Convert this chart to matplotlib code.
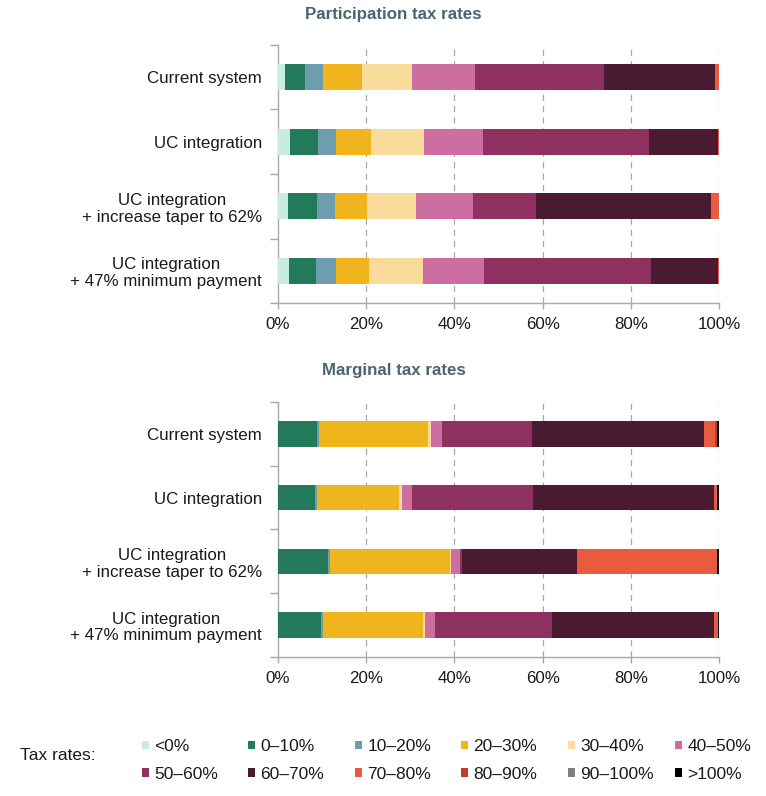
import matplotlib
matplotlib.use("Agg")
import matplotlib.pyplot as plt
from matplotlib.patches import Patch
import numpy as np

plt.rcParams['font.family'] = ['Liberation Sans', 'DejaVu Sans']

categories = ["Current system", "UC integration",
              "UC integration\n+ increase taper to 62%",
              "UC integration\n+ 47% minimum payment"]
bands = ["<0%", "0–10%", "10–20%", "20–30%", "30–40%", "40–50%",
         "50–60%", "60–70%", "70–80%", "80–90%", "90–100%", ">100%"]
colors = ["#c9ece0", "#237a5a", "#6f9db0", "#f0b41c", "#f9dc9c", "#cc6fa0",
          "#8e3060", "#4a1a30", "#e85b3f", "#c23b22", "#808080", "#000000"]

# Participation tax rates: share (%) in each band, per category
participation = {
    "<0%":     [1.7, 2.7, 2.3, 2.6],
    "0–10%":   [4.5, 6.3, 6.5, 6.0],
    "10–20%":  [4.0, 4.1, 4.1, 4.5],
    "20–30%":  [8.9, 7.9, 7.3, 7.5],
    "30–40%":  [11.3, 12.2, 11.1, 12.2],
    "40–50%":  [14.3, 13.2, 12.9, 14.0],
    "50–60%":  [29.3, 37.8, 14.3, 37.9],
    "60–70%":  [25.2, 15.5, 39.8, 15.0],
    "70–80%":  [0.9, 0.2, 1.7, 0.2],
    "80–90%":  [0.0, 0.0, 0.0, 0.0],
    "90–100%": [0.0, 0.0, 0.0, 0.0],
    ">100%":   [0.0, 0.0, 0.0, 0.0],
}

# Marginal tax rates
marginal = {
    "<0%":     [0.0, 0.0, 0.0, 0.0],
    "0–10%":   [8.8, 8.5, 11.3, 9.7],
    "10–20%":  [0.6, 0.3, 0.5, 0.4],
    "20–30%":  [24.6, 18.7, 27.1, 22.7],
    "30–40%":  [0.6, 0.6, 0.3, 0.6],
    "40–50%":  [2.6, 2.3, 2.1, 2.2],
    "50–60%":  [20.4, 27.4, 0.5, 26.6],
    "60–70%":  [39.1, 41.0, 26.1, 36.7],
    "70–80%":  [2.3, 0.8, 31.6, 0.8],
    "80–90%":  [0.5, 0.0, 0.1, 0.0],
    "90–100%": [0.0, 0.0, 0.0, 0.0],
    ">100%":   [0.5, 0.3, 0.4, 0.3],
}

xticks = [0, 20, 40, 60, 80, 100]
xticklabels = ["0%", "20%", "40%", "60%", "80%", "100%"]

FS = 12.2
LFS = 12.5
TXT = "#1a1a1a"
GRAY = "#a8a8a8"

fig = plt.figure(figsize=(7.66, 7.96), dpi=100)
ax1 = fig.add_axes([0.3629, 0.6193, 0.5757, 0.3242])
ax2 = fig.add_axes([0.3629, 0.1746, 0.5757, 0.3204])


def draw(ax, data):
    y = np.arange(len(categories))
    left = np.zeros(len(categories))
    for band, col in zip(bands, colors):
        vals = np.array(data[band], dtype=float)
        ax.barh(y, vals, left=left, height=0.40, color=col,
                edgecolor="none", label=band, zorder=3)
        left += vals
    ax.set_xlim(0, 100)
    ax.set_ylim(len(categories) - 0.5, -0.5)
    ax.set_yticks(y)
    labs = ax.set_yticklabels(categories, fontsize=FS, color=TXT,
                              linespacing=1.15)
    for t in labs:
        t.set_multialignment("center")
    ax.set_yticks(np.arange(-0.5, len(categories)), minor=True)
    ax.tick_params(axis="y", which="major", length=0, pad=11.5)
    ax.tick_params(axis="y", which="minor", length=6, color=GRAY, width=1)
    ax.set_xticks(xticks)
    ax.set_xticklabels(xticklabels, fontsize=FS, color=TXT)
    ax.tick_params(axis="x", length=4, color=GRAY, width=1, pad=6)
    for s in ["top", "right"]:
        ax.spines[s].set_visible(False)
    for s in ["left", "bottom"]:
        ax.spines[s].set_color(GRAY)
        ax.spines[s].set_linewidth(1)
    for xv in xticks[1:]:
        ax.axvline(xv, color=GRAY, linestyle=(0, (5, 4)), linewidth=0.9,
                   zorder=1)


draw(ax1, participation)
draw(ax2, marginal)

fig.text(0.514, 0.982, "Participation tax rates", ha="center", va="center",
         fontsize=FS, fontweight="bold", color="#4a6572")
fig.text(0.514, 0.535, "Marginal tax rates", ha="center", va="center",
         fontsize=FS, fontweight="bold", color="#4a6572")

fig.text(20 / 766, 1 - 755 / 796, "Tax rates:", ha="left", va="center",
         fontsize=LFS, color=TXT)

# Legend: 6 fixed-width columns of 2 rows each
col_x = [142, 248, 355, 461, 568, 675]
for c, x0 in enumerate(col_x):
    idx = [c, c + 6]
    hs = [Patch(facecolor=colors[i], edgecolor="none") for i in idx]
    leg = fig.legend(hs, [bands[i] for i in idx], ncol=1, loc="center left",
                     bbox_to_anchor=(x0 / 766, 1 - 760.5 / 796),
                     frameon=False, fontsize=LFS, handlelength=0.4,
                     handleheight=0.4, handletextpad=0.3,
                     labelspacing=0.72, borderpad=0, borderaxespad=0)
    for t in leg.get_texts():
        t.set_color(TXT)

fig.savefig("out.png", dpi=100)
